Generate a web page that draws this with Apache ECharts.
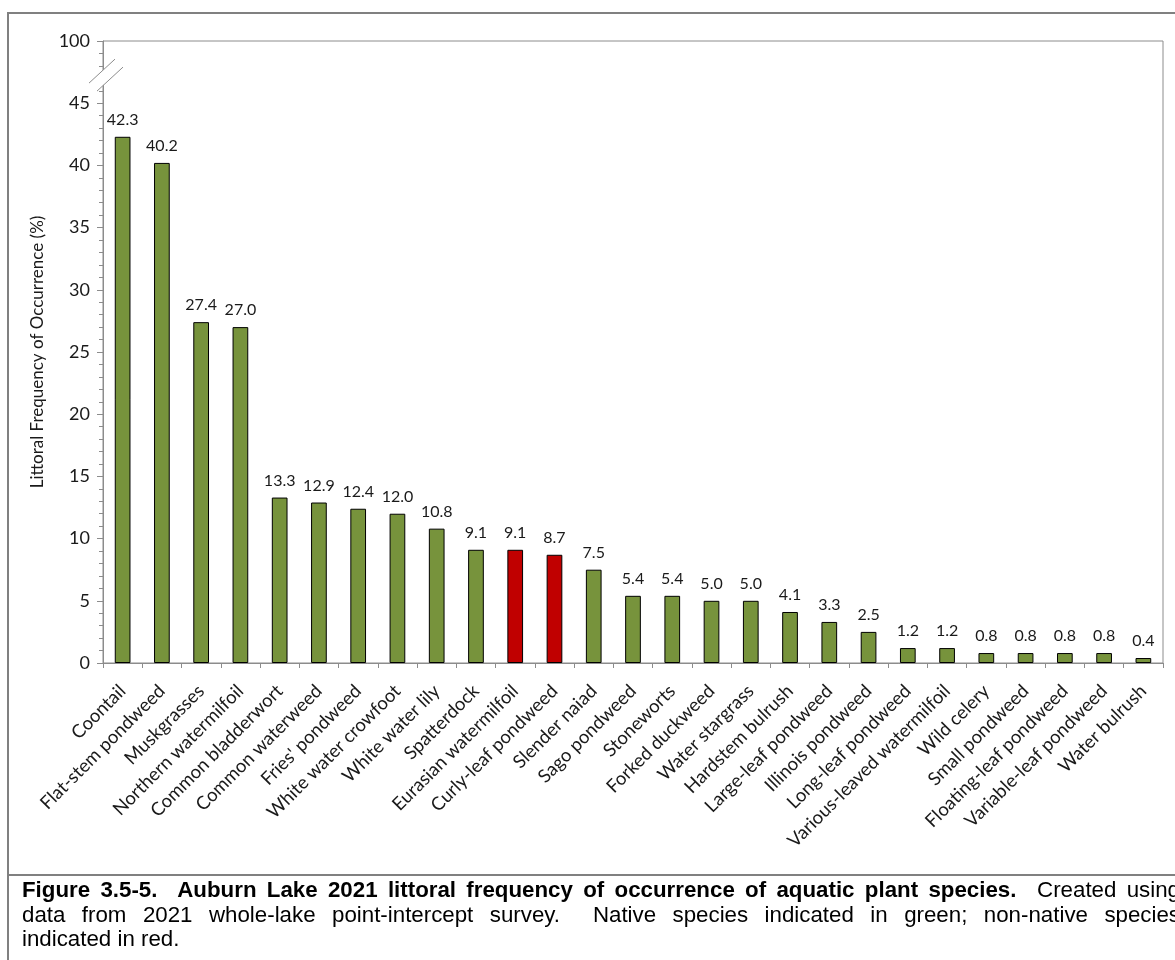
<!DOCTYPE html>
<html>
<head>
<meta charset="utf-8">
<script src="https://cdn.jsdelivr.net/npm/echarts@6/dist/echarts.min.js"></script>
<style>
  html, body { margin: 0; padding: 0; background: #fff; overflow: hidden; }
  #wrap { position: relative; width: 1175px; height: 960px; overflow: hidden; }
  #chart { position: absolute; left: 0; top: 0; width: 1175px; height: 870px; }
  #frame { position: absolute; left: 7px; top: 12px; width: 1220px; height: 864px;
           border: 2px solid #808080; box-sizing: border-box; pointer-events: none; }
  #capbox { position: absolute; left: 7px; top: 874px; width: 1220px; height: 200px;
            border-left: 2px solid #808080; box-sizing: border-box; }
  #caption { position: absolute; left: 22px; top: 878px; width: 1158px;
             font-family: "Liberation Sans", Arial, sans-serif; font-size: 22.3px; line-height: 24.5px;
             color: #000; }
  #caption .ln { width: 1158px; }
  #caption .j { text-align: justify; text-align-last: justify; }
</style>
</head>
<body>
<div id="wrap">
  <div id="chart"></div>
  <div id="frame"></div>
  <div id="capbox"></div>
  <div id="caption">
    <div class="ln j"><b>Figure 3.5-5.&nbsp; Auburn Lake 2021 littoral frequency of occurrence of aquatic plant species.</b>&nbsp; Created using</div>
    <div class="ln j">data from 2021 whole-lake point-intercept survey.&nbsp; Native species indicated in green; non-native species</div>
    <div class="ln">indicated in red.</div>
  </div>
</div>
<script>
const categories = [
  "Coontail", "Flat-stem pondweed", "Muskgrasses", "Northern watermilfoil",
  "Common bladderwort", "Common waterweed", "Fries' pondweed", "White water crowfoot",
  "White water lily", "Spatterdock", "Eurasian watermilfoil", "Curly-leaf pondweed",
  "Slender naiad", "Sago pondweed", "Stoneworts", "Forked duckweed", "Water stargrass",
  "Hardstem bulrush", "Large-leaf pondweed", "Illinois pondweed", "Long-leaf pondweed",
  "Various-leaved watermilfoil", "Wild celery", "Small pondweed", "Floating-leaf pondweed",
  "Variable-leaf pondweed", "Water bulrush"
];
const frequency = [
  42.3, 40.2, 27.4, 27.0, 13.3, 12.9, 12.4, 12.0, 10.8, 9.1, 9.1, 8.7, 7.5,
  5.4, 5.4, 5.0, 5.0, 4.1, 3.3, 2.5, 1.2, 1.2, 0.8, 0.8, 0.8, 0.8, 0.4
];
const nonNative = [
  false, false, false, false, false, false, false, false, false, false, true, true, false,
  false, false, false, false, false, false, false, false, false, false, false, false, false, false
];
// Axis ticks: 0..45 real, top tick (after break) labelled 100
const yTicks = [0, 5, 10, 15, 20, 25, 30, 35, 40, 45, 50];
const yTickLabels = ["0", "5", "10", "15", "20", "25", "30", "35", "40", "45", "100"];

const GREEN = "#77933C", RED = "#C00000", AXIS = "#8c8c8c";
const FONT = "Lato, 'Open Sans', sans-serif";

const chart = echarts.init(document.getElementById('chart'), null, { renderer: 'canvas' });

const option = {
  animation: false,
  backgroundColor: 'transparent',
  grid: {
    left: 103, right: 12, top: 41, bottom: 207,
    show: true, borderColor: AXIS, borderWidth: 1, backgroundColor: 'transparent'
  },
  xAxis: {
    type: 'category',
    data: categories,
    axisLine: { lineStyle: { color: AXIS, width: 1 } },
    axisTick: { show: true, alignWithLabel: false, length: 5, lineStyle: { color: AXIS } },
    axisLabel: {
      interval: 0, rotate: 45, margin: 25,
      fontFamily: FONT, fontSize: 18.5, color: '#1a1a1a'
    }
  },
  yAxis: {
    type: 'value',
    min: yTicks[0], max: yTicks[yTicks.length - 1], interval: 5,
    name: 'Littoral Frequency of Occurrence (%)',
    nameLocation: 'middle', nameRotate: 90, nameGap: 57,
    nameTextStyle: { fontFamily: FONT, fontSize: 17, color: '#1a1a1a' },
    axisLine: { show: true, lineStyle: { color: AXIS, width: 1 } },
    axisTick: { show: true, length: 6, lineStyle: { color: AXIS } },
    minorTick: { show: true, splitNumber: 5, length: 4, lineStyle: { color: AXIS } },
    splitLine: { show: false },
    axisLabel: {
      margin: 13, fontFamily: FONT, fontSize: 18, color: '#1a1a1a',
      formatter: function (v) {
        const i = yTicks.indexOf(v);
        return i >= 0 ? yTickLabels[i] : '';
      }
    }
  },
  series: [{
    type: 'bar',
    barWidth: '40%',
    data: frequency.map(function (v, i) {
      return { value: v, itemStyle: { color: nonNative[i] ? RED : GREEN } };
    }),
    itemStyle: { borderColor: '#000', borderWidth: 1 },
    label: {
      show: true, position: 'top', distance: 9,
      fontFamily: FONT, fontSize: 16, color: '#1a1a1a',
      formatter: function (p) { return p.value.toFixed(1); }
    }
  }]
};
chart.setOption(option);

// Axis break mark between 45 and 100
const yBreak = chart.convertToPixel({ yAxisIndex: 0 }, 47.5);
const rect = chart.getModel().getComponent('grid', 0).coordinateSystem.getRect();
const ax = rect.x, cy = yBreak + 2;
const s1 = [[ax - 14, cy + 9], [ax + 12, cy - 15]];
const s2 = [[ax - 6, cy + 17], [ax + 20, cy - 7]];
chart.setOption({
  graphic: [
    { type: 'polygon', z: 100, shape: { points: [s1[0], s1[1], s2[1], s2[0]] },
      style: { fill: '#fff', stroke: null } },
    { type: 'line', z: 101, shape: { x1: s1[0][0], y1: s1[0][1], x2: s1[1][0], y2: s1[1][1] },
      style: { stroke: AXIS, lineWidth: 1 } },
    { type: 'line', z: 101, shape: { x1: s2[0][0], y1: s2[0][1], x2: s2[1][0], y2: s2[1][1] },
      style: { stroke: AXIS, lineWidth: 1 } }
  ]
});
</script>
</body>
</html>
